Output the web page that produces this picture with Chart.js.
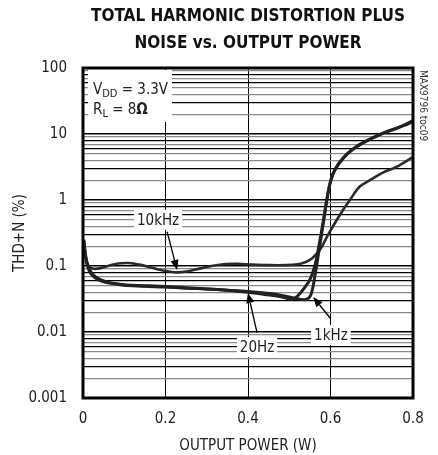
<!DOCTYPE html>
<html>
<head>
<meta charset="utf-8">
<script src="https://cdn.jsdelivr.net/npm/chart.js@4/dist/chart.umd.min.js"></script>
<style>
  html, body { margin: 0; padding: 0; background: #fff; }
  #wrap { width: 438px; height: 455px; }
</style>
</head>
<body>
<div id="wrap"><canvas id="thd-chart" width="438" height="455"></canvas></div>
<script>
// values (x = output power in W, y = THD+N in %)
var power20Hz = [0.002, 0.006, 0.012, 0.02, 0.03, 0.045, 0.065, 0.09, 0.12, 0.16, 0.2, 0.25, 0.3, 0.35, 0.4, 0.44, 0.47, 0.49, 0.505, 0.52, 0.535, 0.55, 0.562, 0.573, 0.583, 0.592, 0.6, 0.61, 0.63, 0.655, 0.69, 0.727, 0.761, 0.78, 0.8];
var thd20Hz   = [0.25, 0.14, 0.095, 0.075, 0.066, 0.059, 0.055, 0.052, 0.05, 0.049, 0.048, 0.046, 0.045, 0.043, 0.04, 0.037, 0.035, 0.033, 0.031, 0.035, 0.045, 0.062, 0.1, 0.22, 0.5, 1.1, 1.9, 2.8, 4.2, 5.9, 8.0, 10.2, 12.2, 13.8, 16];

var power1kHz = [0.002, 0.006, 0.012, 0.02, 0.03, 0.045, 0.065, 0.09, 0.12, 0.16, 0.2, 0.25, 0.3, 0.35, 0.4, 0.44, 0.47, 0.5, 0.52, 0.54, 0.552, 0.562, 0.572, 0.582, 0.59, 0.598, 0.606, 0.62, 0.64, 0.665, 0.7, 0.73, 0.76, 0.78, 0.8];
var thd1kHz   = [0.24, 0.15, 0.1, 0.08, 0.069, 0.061, 0.056, 0.053, 0.051, 0.05, 0.049, 0.047, 0.045, 0.043, 0.041, 0.039, 0.037, 0.034, 0.032, 0.031, 0.036, 0.07, 0.17, 0.42, 0.9, 1.7, 2.5, 3.6, 5.0, 6.6, 8.6, 10.5, 12.3, 13.6, 15.4];

var power10kHz = [0.002, 0.008, 0.015, 0.025, 0.04, 0.06, 0.085, 0.11, 0.14, 0.17, 0.2, 0.228, 0.255, 0.285, 0.315, 0.345, 0.375, 0.41, 0.45, 0.49, 0.52, 0.54, 0.555, 0.567, 0.579, 0.592, 0.606, 0.63, 0.647, 0.671, 0.696, 0.727, 0.761, 0.8];
var thd10kHz   = [0.22, 0.12, 0.097, 0.091, 0.092, 0.1, 0.109, 0.111, 0.104, 0.093, 0.084, 0.08, 0.083, 0.092, 0.101, 0.107, 0.108, 0.105, 0.103, 0.103, 0.106, 0.115, 0.13, 0.155, 0.196, 0.28, 0.4, 0.7, 1.0, 1.6, 2.0, 2.6, 3.2, 4.5];

var decades = [0.001, 0.01, 0.1, 1, 10, 100];
var yTickLabels = ["0.001", "0.01", "0.1", "1", "10", "100"];
var xTickValues = [0, 0.2, 0.4, 0.6, 0.8];
var xTickLabels = ["0", "0.2", "0.4", "0.6", "0.8"];

// curve labels with their arrows, in data units
var curveNotes = [
  { text: "10kHz", at: [0.182, 0.5],    from: [0.204, 0.33],   to: [0.228, 0.087] },
  { text: "20Hz",  at: [0.422, 0.0059], from: [0.422, 0.0097], to: [0.4, 0.039] },
  { text: "1kHz",  at: [0.601, 0.009],  from: [0.599, 0.0163], to: [0.558, 0.034] }
];

var FONT = "'DejaVu Sans Condensed', 'Liberation Sans', sans-serif";

function pts(xs, ys) {
  return xs.map(function (x, i) { return { x: x, y: ys[i] }; });
}

function logMinor(v) {
  var e = Math.floor(Math.log10(v) + 1e-9);
  return Math.round(v / Math.pow(10, e));
}

function arrow(ctx, x1, y1, x2, y2) {
  var ang = Math.atan2(y2 - y1, x2 - x1);
  var len = 10, wid = 4;
  ctx.beginPath();
  ctx.moveTo(x1, y1);
  ctx.lineTo(x2 - Math.cos(ang) * len, y2 - Math.sin(ang) * len);
  ctx.lineWidth = 1.3;
  ctx.strokeStyle = "#000";
  ctx.stroke();
  ctx.beginPath();
  ctx.moveTo(x2, y2);
  ctx.lineTo(x2 - Math.cos(ang) * len - Math.sin(ang) * wid, y2 - Math.sin(ang) * len + Math.cos(ang) * wid);
  ctx.lineTo(x2 - Math.cos(ang) * len + Math.sin(ang) * wid, y2 - Math.sin(ang) * len - Math.cos(ang) * wid);
  ctx.closePath();
  ctx.fillStyle = "#000";
  ctx.fill();
}

var notesPlugin = {
  id: "notes",
  beforeDatasetsDraw: function (chart) {
    var ctx = chart.ctx, a = chart.chartArea;
    var xs = chart.scales.x, ys = chart.scales.y;
    ctx.save();
    ctx.fillStyle = "#fff";
    // conditions box
    ctx.fillRect(a.left + 5, a.top + 2, 84, 52);
    ctx.font = "15px " + FONT;
    curveNotes.forEach(function (n) {
      var w = ctx.measureText(n.text).width + 6;
      var cx = xs.getPixelForValue(n.at[0]), cy = ys.getPixelForValue(n.at[1]);
      ctx.fillRect(cx - w / 2, cy - 10, w, 20);
    });
    ctx.restore();
  },
  afterDatasetsDraw: function (chart) {
    var ctx = chart.ctx, a = chart.chartArea;
    var xs = chart.scales.x, ys = chart.scales.y;
    ctx.save();
    ctx.fillStyle = "#222";
    ctx.textBaseline = "alphabetic";
    ctx.textAlign = "left";
    // V_DD = 3.3V
    var x0 = a.left + 10, b1 = a.top + 26, b2 = a.top + 46;
    ctx.font = "15px " + FONT;
    ctx.fillText("V", x0, b1);
    var w = ctx.measureText("V").width;
    ctx.font = "11px " + FONT;
    ctx.fillText("DD", x0 + w, b1 + 3);
    var w2 = ctx.measureText("DD").width;
    ctx.font = "15px " + FONT;
    ctx.fillText(" = 3.3V", x0 + w + w2, b1);
    // R_L = 8Ω
    ctx.fillText("R", x0, b2);
    w = ctx.measureText("R").width;
    ctx.font = "11px " + FONT;
    ctx.fillText("L", x0 + w, b2 + 3);
    w2 = ctx.measureText("L").width;
    ctx.font = "15px " + FONT;
    ctx.fillText(" = 8", x0 + w + w2, b2);
    var w3 = ctx.measureText(" = 8").width;
    ctx.font = "bold 15px " + FONT;
    ctx.fillText("\u03A9", x0 + w + w2 + w3, b2);

    ctx.font = "15px " + FONT;
    ctx.textAlign = "center";
    ctx.textBaseline = "middle";
    curveNotes.forEach(function (n) {
      ctx.fillStyle = "#222";
      ctx.fillText(n.text, xs.getPixelForValue(n.at[0]), ys.getPixelForValue(n.at[1]) + 1);
      arrow(ctx, xs.getPixelForValue(n.from[0]), ys.getPixelForValue(n.from[1]),
                 xs.getPixelForValue(n.to[0]), ys.getPixelForValue(n.to[1]));
    });

    // frame
    ctx.lineWidth = 3;
    ctx.strokeStyle = "#000";
    ctx.strokeRect(a.left, a.top, a.right - a.left, a.bottom - a.top);

    // side code
    ctx.translate(a.right + 10, a.top + 2);
    ctx.rotate(Math.PI / 2);
    ctx.font = "10px " + FONT;
    ctx.textAlign = "left";
    ctx.fillStyle = "#333";
    ctx.fillText("MAX9796 toc09", 0, 0);
    ctx.restore();
  }
};

new Chart(document.getElementById("thd-chart"), {
  type: "line",
  data: {
    datasets: [{
        label: "20Hz",
        data: pts(power20Hz, thd20Hz),
        borderColor: "#222",
        borderWidth: 3,
        pointRadius: 0,
        tension: 0.35,
        fill: false
      }, {
        label: "1kHz",
        data: pts(power1kHz, thd1kHz),
        borderColor: "#222",
        borderWidth: 3,
        pointRadius: 0,
        tension: 0.35,
        fill: false
      }, {
        label: "10kHz",
        data: pts(power10kHz, thd10kHz),
        borderColor: "#2a2a2a",
        borderWidth: 2.6,
        pointRadius: 0,
        tension: 0.35,
        fill: false
      }
    ]
  },
  options: {
    responsive: false,
    animation: false,
    layout: { padding: { left: 0, right: 25, top: 0, bottom: 0 } },
    plugins: {
      legend: { display: false },
      tooltip: { enabled: false },
      title: {
        display: true,
        fullSize: false,
        text: ["TOTAL HARMONIC DISTORTION PLUS", "NOISE vs. OUTPUT POWER"],
        color: "#111",
        font: { family: FONT, size: 17, weight: "bold", lineHeight: 1.6 },
        padding: { top: 3, bottom: 10.6 }
      }
    },
    scales: {
      x: {
        type: "linear",
        min: 0,
        max: 0.8,
        afterBuildTicks: function (scale) {
          scale.ticks = xTickValues.map(function (v) { return { value: v }; });
        },
        afterFit: function (scale) { scale.height = 57; },
        ticks: {
          padding: 12,
          color: "#222",
          font: { family: FONT, size: 15 },
          callback: function (v) { return xTickLabels[xTickValues.indexOf(v)]; }
        },
        grid: { color: "#000", lineWidth: 1, drawTicks: false },
        border: { display: false },
        title: {
          display: true,
          text: "OUTPUT POWER (W)",
          color: "#222",
          font: { family: FONT, size: 15 },
          padding: { top: 0, bottom: 0 }
        }
      },
      y: {
        type: "logarithmic",
        min: 0.001,
        max: 100,
        afterBuildTicks: function (scale) {
          var t = [];
          decades.forEach(function (d, i) {
            if (i === decades.length - 1) { t.push({ value: d, major: true }); return; }
            for (var k = 1; k <= 9; k++) t.push({ value: +(d * k).toPrecision(3), major: k === 1 });
          });
          scale.ticks = t;
        },
        afterFit: function (scale) { scale.width = 83; },
        ticks: {
          padding: 16,
          color: "#222",
          autoSkip: false,
          font: { family: FONT, size: 15 },
          callback: function (v) {
            var i = decades.indexOf(v);
            return i >= 0 ? yTickLabels[i] : "";
          }
        },
        grid: {
          drawTicks: false,
          color: function (c) {
            var k = logMinor(c.tick.value);
            return (k === 1 || k === 3 || k === 6 || k === 8) ? "#000" : "#8a8a8a";
          },
          lineWidth: function (c) {
            return logMinor(c.tick.value) === 1 ? 1.6 : 1.2;
          }
        },
        border: { display: false },
        title: {
          display: true,
          text: "THD+N (%)",
          color: "#222",
          font: { family: FONT, size: 15 },
          padding: { top: 11, bottom: 0 }
        }
      }
    }
  },
  plugins: [notesPlugin]
});
</script>
</body>
</html>
